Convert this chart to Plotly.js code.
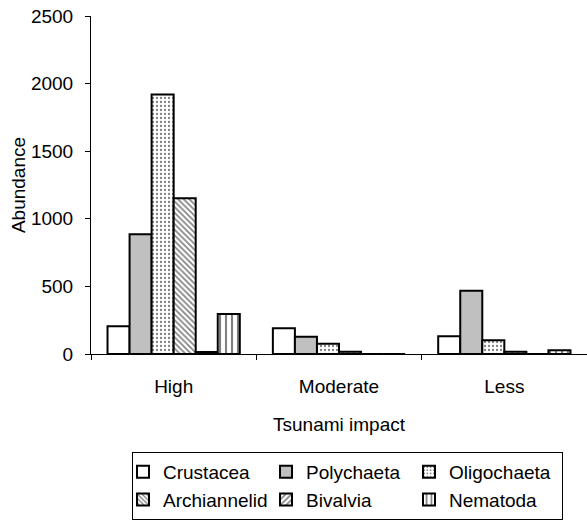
<!DOCTYPE html>
<html>
<head>
<meta charset="utf-8">
<script src="https://cdn.plot.ly/plotly-3.0.1.min.js"></script>
<style>
  html, body { margin: 0; padding: 0; background: #fff; }
  #chart { width: 587px; height: 529px; }
</style>
</head>
<body>
<div id="chart"></div>
<script>
// Tsunami impact classes on the category axis
const impact = ['High', 'Moderate', 'Less'];

// Abundance of each taxon per impact class
const crustacea    = [205, 190, 131];
const polychaeta   = [885, 128, 468];
const oligochaeta  = [1920, 76, 101];
const archiannelid = [1152, 17, 17];
const bivalvia     = [15, 0, 0];
const nematoda     = [296, 0, 28];

const yTicks = [0, 500, 1000, 1500, 2000, 2500];

const outline = { color: '#000', width: 2 };

function series(name, values, fill, pattern) {
  const marker = { color: fill, line: outline };
  if (pattern) marker.pattern = pattern;
  return { type: 'bar', name: name, x: impact, y: values, marker: marker };
}

const traces = [
  series('Crustacea', crustacea, '#ffffff'),
  series('Polychaeta', polychaeta, '#c0c0c0'),
  series('Oligochaeta', oligochaeta, '#ffffff',
    { shape: '.', fgcolor: '#000', bgcolor: '#ffffff', size: 4, solidity: 0.25, fillmode: 'overlay' }),
  series('Archiannelid', archiannelid, '#ffffff',
    { shape: '\\', fgcolor: '#000', bgcolor: '#ffffff', size: 4, solidity: 0.4, fillmode: 'overlay' }),
  series('Bivalvia', bivalvia, '#ffffff',
    { shape: '/', fgcolor: '#000', bgcolor: '#ffffff', size: 5, solidity: 0.4, fillmode: 'overlay' }),
  series('Nematoda', nematoda, '#ffffff',
    { shape: '|', fgcolor: '#000', bgcolor: '#ffffff', size: 6, solidity: 0.35, fillmode: 'overlay' })
];

const font = { family: 'Liberation Sans, Arial, sans-serif', size: 19, color: '#000' };

const plotL = 91, plotT = 16, plotW = 496, plotH = 338;

const layout = {
  width: 587,
  height: 529,
  margin: { l: plotL, r: 0, t: plotT, b: 529 - plotT - plotH, autoexpand: false },
  paper_bgcolor: '#fff',
  plot_bgcolor: '#fff',
  font: font,
  barmode: 'group',
  bargap: 0.2,
  bargroupgap: 0,
  showlegend: true,
  xaxis: {
    type: 'category',
    range: [-0.5, 2.5],
    showline: true,
    linecolor: '#000',
    linewidth: 1,
    ticks: 'outside',
    tickson: 'boundaries',
    ticklen: 5,
    tickcolor: '#000',
    ticklabelstandoff: 15,
    showgrid: false,
    zeroline: false,
    title: { text: 'Tsunami impact', font: font, standoff: 21 }
  },
  yaxis: {
    range: [0, 2500],
    tickvals: yTicks,
    ticktext: yTicks.map(String),
    showline: true,
    linecolor: '#000',
    linewidth: 1,
    ticks: 'outside',
    ticklen: 5,
    tickcolor: '#000',
    ticklabelstandoff: 8,
    showgrid: false,
    zeroline: false,
    title: { text: 'Abundance', font: font, standoff: 0 }
  },
  legend: {
    orientation: 'h',
    xanchor: 'left',
    yanchor: 'top',
    entrywidth: 108,
    entrywidthmode: 'pixels',
    indentation: -10,
    bordercolor: '#000',
    borderwidth: 1,
    bgcolor: '#fff',
    font: font,
    traceorder: 'normal'
  }
};

// legend box below the axis title, left edge at x=132 px, top at y=452 px
layout.legend.x = (132 - plotL) / plotW;
layout.legend.y = -(452 - (plotT + plotH)) / plotH;

Plotly.newPlot('chart', traces, layout, { displayModeBar: false, staticPlot: true });
</script>
</body>
</html>
